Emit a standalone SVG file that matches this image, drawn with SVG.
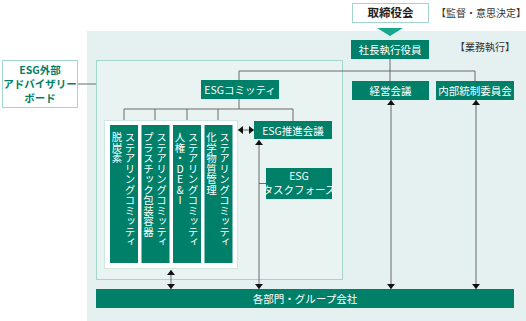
<svg xmlns="http://www.w3.org/2000/svg" width="526" height="321" viewBox="0 0 526 321">
<defs>
<style>
.t{font-family:"Noto Sans CJK JP","Noto Sans",sans-serif;}
.w{fill:#ffffff;font-size:10.5px;text-anchor:middle;}
.g{fill:#007f69;}
.ln{stroke:#6b6b6b;stroke-width:1;fill:none;}
.v{writing-mode:vertical-rl;font-size:10.5px;fill:#ffffff;}
.up{text-orientation:upright;}
</style>
<marker id="ah" viewBox="0 0 5 8" refX="5" refY="4" markerWidth="5" markerHeight="8" markerUnits="userSpaceOnUse" orient="auto-start-reverse">
<path d="M0,0 L5,4 L0,8 z" fill="#111"/>
</marker>
</defs>
<rect width="526" height="321" fill="#ffffff"/>
<rect x="87" y="31" width="439" height="290" fill="#e5f0f0"/>
<g id="esg-area">
<rect x="96.5" y="60.5" width="246" height="219" fill="#e8f3f2" stroke="#a3d6ca"/>
</g>
<g id="board">
<rect x="352.5" y="3.5" width="76" height="19" fill="#ffffff" stroke="#a3d6ca"/>
<text class="t" x="390.5" y="17" font-size="11.5" font-weight="bold" fill="#222" text-anchor="middle">取締役会</text>
<path d="M377,28 L403,28 L390,36 z" fill="#17a88b"/>
</g>
<text class="t" x="436" y="17" font-size="10" fill="#333">【監督・意思決定】</text>
<text class="t" x="455" y="51" font-size="10" fill="#333">【業務執行】</text>
<g id="ceo">
<rect x="351" y="40" width="78" height="19" class="g"/>
<text class="t w" x="390" y="54">社長執行役員</text>
</g>
<g id="advisory">
<rect x="2.5" y="60.5" width="75" height="47" fill="#ffffff" stroke="#a3d6ca"/>
<text class="t" x="40" y="74" font-size="10.5" font-weight="bold" fill="#007f69" text-anchor="middle">ESG外部</text>
<text class="t" x="40" y="88" font-size="10.5" font-weight="bold" fill="#007f69" text-anchor="middle">アドバイザリー</text>
<text class="t" x="40" y="102" font-size="10.5" font-weight="bold" fill="#007f69" text-anchor="middle">ボード</text>
</g>
<g id="connectors">
<path class="ln" d="M78,84 L96,84"/>
<path class="ln" d="M390,59 L390,81"/>
<path class="ln" d="M239,80 L239,71 L475,71 L475,81"/>
<path class="ln" d="M239,99 L239,109"/>
<path class="ln" d="M124,125 L124,109 L293,109 L293,121"/>
<path class="ln" d="M155,109 L155,125"/>
<path class="ln" d="M187,109 L187,125"/>
<path class="ln" d="M218,109 L218,125"/>
<path class="ln" d="M238,130 L254,130" marker-start="url(#ah)" marker-end="url(#ah)"/>
<path class="ln" d="M259,140 L259,289" marker-start="url(#ah)" marker-end="url(#ah)"/>
<path class="ln" d="M259,183.5 L266,183.5"/>
<path class="ln" d="M391,100 L391,289" marker-start="url(#ah)" marker-end="url(#ah)"/>
<path class="ln" d="M476,100 L476,289" marker-start="url(#ah)" marker-end="url(#ah)"/>
<path class="ln" d="M171,270 L171,289" marker-start="url(#ah)" marker-end="url(#ah)"/>
</g>
<g id="esg-committee">
<rect x="201" y="80" width="78" height="19" class="g"/>
<text class="t w" x="240" y="94">ESGコミッティ</text>
</g>
<g id="mgmt">
<rect x="352" y="81" width="77" height="19" class="g"/>
<text class="t w" x="390.5" y="95">経営会議</text>
</g>
<g id="internal">
<rect x="436" y="81" width="78" height="19" class="g"/>
<text class="t w" x="475" y="95">内部統制委員会</text>
</g>
<g id="steering">
<rect x="104.5" y="120.5" width="133" height="148" fill="#ffffff" stroke="#cfe6e1"/>
<rect x="110" y="125" width="28" height="138" class="g"/>
<rect x="141.5" y="125" width="28" height="138" class="g"/>
<rect x="173" y="125" width="28" height="138" class="g"/>
<rect x="204.5" y="125" width="28" height="138" class="g"/>
<text class="t v" x="130" y="132">ステアリングコミッティ</text>
<text class="t v" x="117" y="132">脱炭素</text>
<text class="t v" x="161.5" y="132">ステアリングコミッティ</text>
<text class="t v" x="148.5" y="132">プラスチック包装容器</text>
<text class="t v" x="193" y="132">ステアリングコミッティ</text>
<text class="t v up" x="180" y="132">人権・DE&amp;I</text>
<text class="t v" x="224.5" y="132">ステアリングコミッティ</text>
<text class="t v" x="211.5" y="132">化学物質管理</text>
</g>
<g id="promotion">
<rect x="254" y="121" width="78" height="18" class="g"/>
<text class="t w" x="293" y="134.5">ESG推進会議</text>
</g>
<g id="taskforce">
<rect x="266" y="168" width="66" height="31" class="g"/>
<text class="t w" x="299" y="180">ESG</text>
<text class="t w" x="299" y="194">タスクフォース</text>
</g>
<g id="groups">
<rect x="96" y="289" width="418" height="19" class="g"/>
<text class="t w" x="305" y="303">各部門・グループ会社</text>
</g>
</svg>
